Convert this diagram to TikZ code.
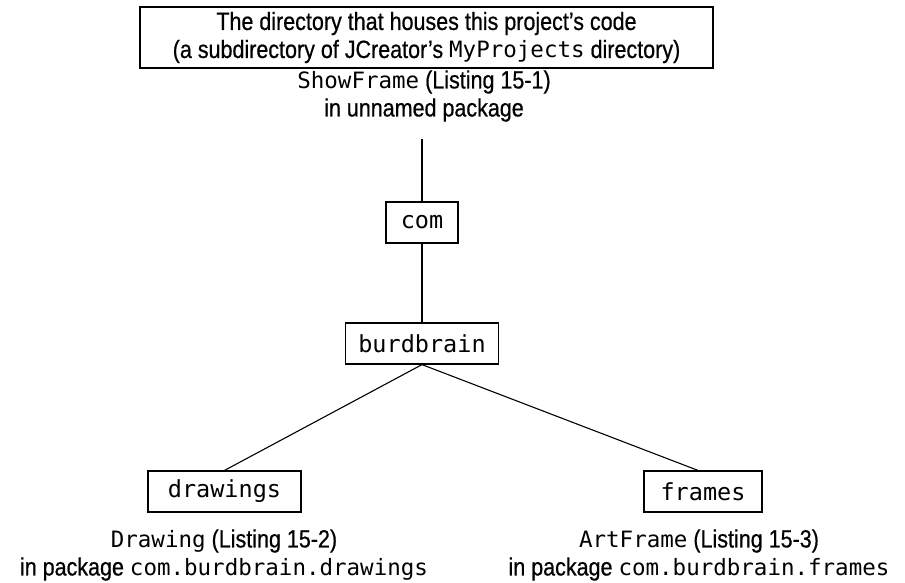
\documentclass[tikz,border=0pt]{standalone}
\usepackage{fontspec}
\setmainfont{Liberation Sans}[FakeStretch=0.86, FakeBold=0.6]
\newfontfamily\monofam{DejaVu Sans Mono}
\newcommand{\code}[1]{{\monofam\fontsize{22.5pt}{28pt}\selectfont #1}}
\begin{document}
\begin{tikzpicture}[x=1pt,y=1pt,
  lbl/.style={font=\fontsize{25pt}{28pt}\selectfont, align=center, inner sep=0pt},
  pkgbox/.style={draw, line width=1.2pt, minimum height=41pt, inner sep=0pt,
    font=\monofam\fontsize{23.5pt}{28pt}\selectfont},
  conn/.style={line width=1.1pt}]
\useasboundingbox (0,0) rectangle (905,-582);
\node[draw, line width=1.2pt, minimum width=573pt, minimum height=61pt, lbl] (top) at (426.5,-37.5)
  {The directory that houses this project’s code\\(a subdirectory of JCreator’s \code{MyProjects} directory)};
\node[lbl] (sf) at (424,-96) {\code{ShowFrame} (Listing 15-1)\\in unnamed package};
\coordinate (t0) at (422,-139);
\node[pkgbox, minimum width=72pt] (com) at (422,-222.5) {com};
\node[pkgbox, minimum width=153pt] (bb) at (422,-343.5) {burdbrain};
\node[pkgbox, minimum width=153pt] (dr) at (224.5,-491.5) {drawings};
\node[pkgbox, minimum width=118pt] (fr) at (703,-491.5) {frames};
\node[lbl] (drl) at (224,-555) {\code{Drawing} (Listing 15-2)\\in package \code{com.burdbrain.drawings}};
\node[lbl] (frl) at (699,-555) {\code{ArtFrame} (Listing 15-3)\\in package \code{com.burdbrain.frames}};
\draw[conn] (t0) -- (com.north);
\draw[conn] (com.south) -- (bb.north);
\draw[conn] (bb.south) -- (dr.north);
\draw[conn] (bb.south) -- ([xshift=-5pt]fr.north);
\end{tikzpicture}
\end{document}
